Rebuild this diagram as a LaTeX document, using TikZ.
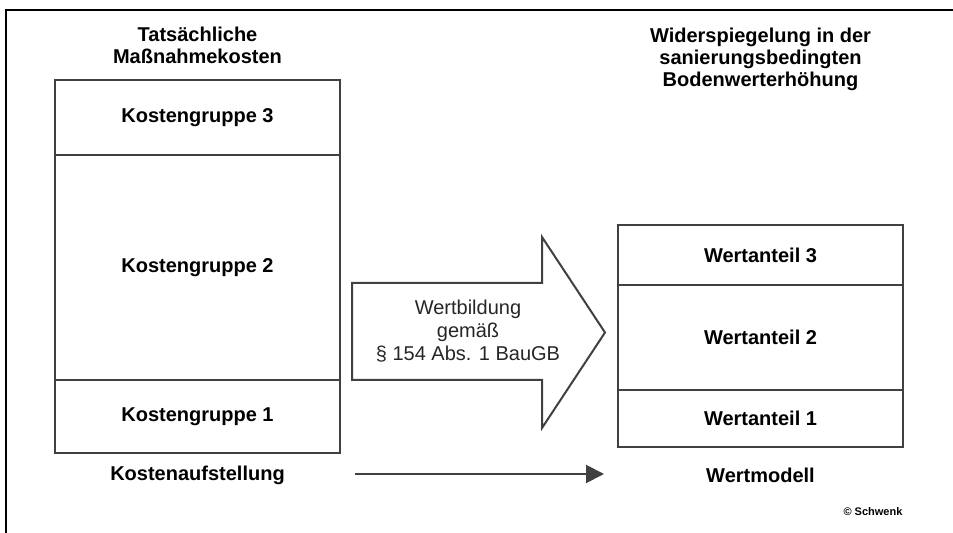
\documentclass[tikz,border=0pt]{standalone}
\usepackage{fontspec}
\setmainfont{Liberation Sans}
\usetikzlibrary{positioning}
\usetikzlibrary{arrows.meta}

\tikzset{
  teil/.style={draw=black!75, line width=1pt, minimum width=142.5pt, inner sep=0pt, outer sep=0pt, font=\bfseries},
  titel/.style={align=center, inner sep=0pt, font=\bfseries\fontsize{10}{11}\selectfont},
  unter/.style={inner sep=0pt, font=\bfseries},
}

\begin{document}
\begin{tikzpicture}[x=0.5pt,y=-0.5pt]
            \useasboundingbox (0,0) rectangle (953,533);
            % Rahmen
            \draw[line width=0.8pt] (6,533) -- (6,10) -- (953,10);

            % Kosten (links)
            \node[titel, anchor=north] (tkost) at (197.5,27) {Tatsächliche\\Maßnahmekosten};
            \node[teil, minimum height=37.5pt] (kg3) at (197.5,117.5) {Kostengruppe 3};
            \node[teil, minimum height=112.5pt, below=0pt of kg3] (kg2) {Kostengruppe 2};
            \node[teil, minimum height=36.5pt, below=0pt of kg2] (kg1) {Kostengruppe 1};
            \node[unter] (kosten) at (197.5,475) {Kostenaufstellung};

            % Wert (rechts)
            \node[titel, anchor=north] (twert) at (760.5,28) {Widerspiegelung in der\\sanierungsbedingten\\Bodenwerterhöhung};
            \node[teil, minimum height=30pt] (wa3) at (760.5,255) {Wertanteil 3};
            \node[teil, minimum height=52.5pt, below=0pt of wa3] (wa2) {Wertanteil 2};
            \node[teil, minimum height=28.5pt, below=0pt of wa2] (wa1) {Wertanteil 1};
            \node[unter] (wmodell) at (760.5,475) {Wertmodell};

            % Blockpfeil
            \draw[draw=black!75, line width=1pt, line join=miter]
                (352,283) -- (542,283) -- (542,237) -- (605,332.5) -- (542,428) -- (542,380) -- (352,380) -- cycle;
            \node[align=center, inner sep=0pt, text=black!85, font=\fontsize{10}{11.5}\selectfont] (wb) at (468,331)
                {Wertbildung\\gemäß\\§ 154 Abs. 1 BauGB};

            \coordinate (pa) at (355,474);
            \coordinate (pb) at (604,474);
            \draw[-{Triangle[length=9pt,width=9pt]}, line width=1pt, black!75] (pa) -- (pb);

            \node[unter, font=\bfseries\fontsize{5.5}{6}\selectfont] (copy) at (873,512) {© Schwenk};
        \end{tikzpicture}
\end{document}
